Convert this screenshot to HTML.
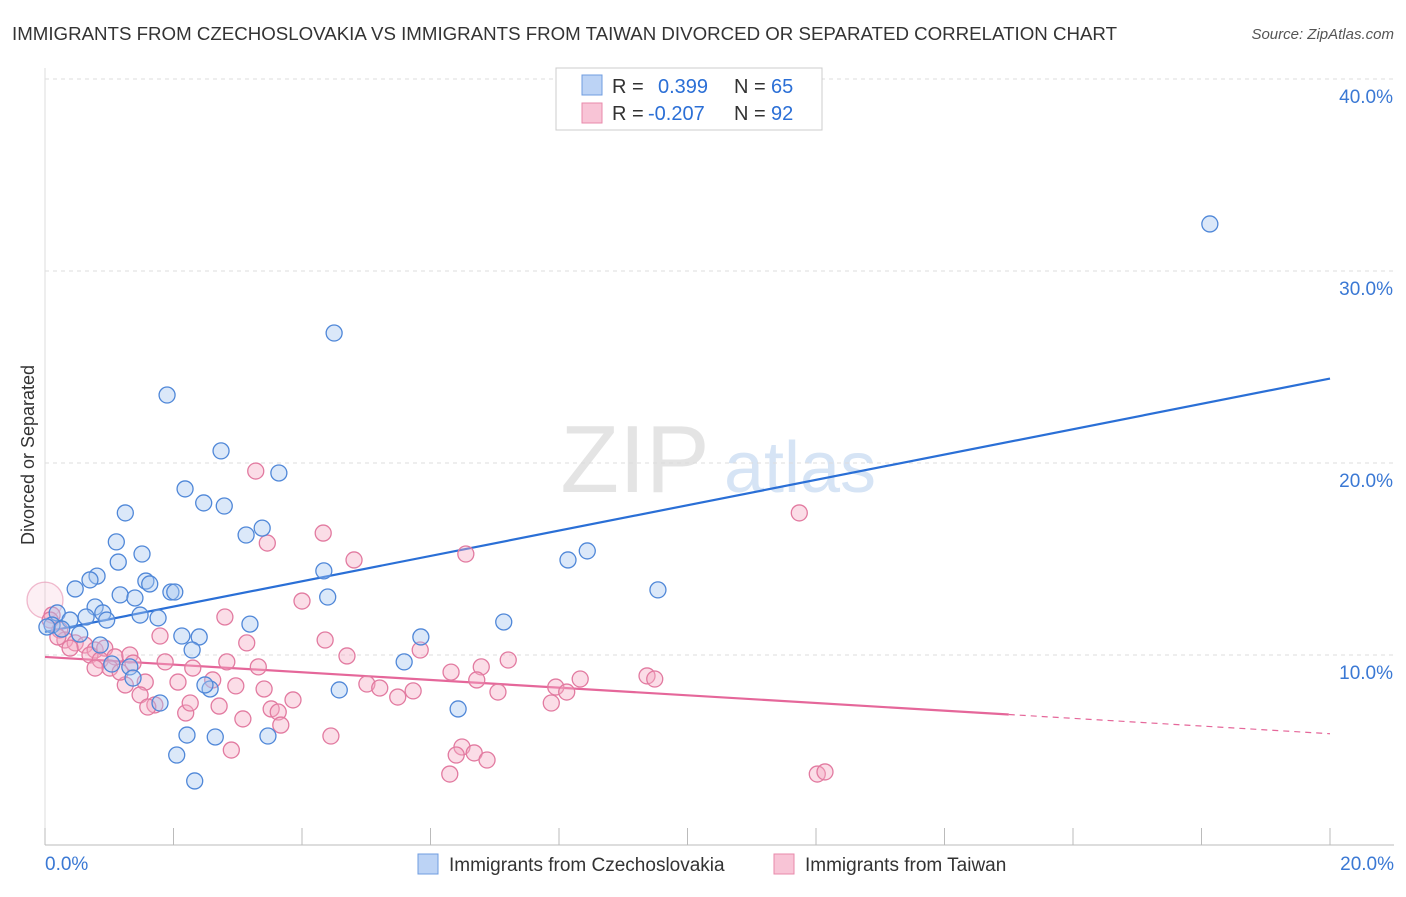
<!DOCTYPE html>
<html><head><meta charset="utf-8">
<style>
body{margin:0;background:#fff;font-family:"Liberation Sans",sans-serif;}
svg text{font-family:"Liberation Sans",sans-serif;}
</style></head>
<body>
<svg id="chart" width="1406" height="892" xmlns="http://www.w3.org/2000/svg">
<text x="12" y="40" font-size="18" fill="#333" textLength="1105" lengthAdjust="spacingAndGlyphs">IMMIGRANTS FROM CZECHOSLOVAKIA VS IMMIGRANTS FROM TAIWAN DIVORCED OR SEPARATED CORRELATION CHART</text>
<text x="1394" y="39" font-size="15" fill="#555" font-style="italic" text-anchor="end">Source: ZipAtlas.com</text>
<text x="0" y="0" font-size="18" fill="#333" transform="translate(34,455) rotate(-90)" text-anchor="middle">Divorced or Separated</text>
<g><text x="635" y="492" font-size="96" fill="#e4e4e4" font-family="Liberation Serif" text-anchor="middle">ZIP</text><text x="800" y="492" font-size="72" fill="#d6e4f5" text-anchor="middle">atlas</text></g>
<g id="grid"></g><g id="axes"></g><g id="lines"></g><g id="pts"></g>
<g>
<rect x="556" y="68" width="266" height="62" fill="#fff" stroke="#ccc"/>
<rect x="582" y="75" width="20" height="20" fill="#bcd3f5" stroke="#6f9de0"/>
<rect x="582" y="103" width="20" height="20" fill="#f8c4d6" stroke="#e88aab"/>
<text x="612" y="93" font-size="20" fill="#333">R = </text><text x="658" y="93" font-size="20" fill="#2b6fd6">0.399</text>
<text x="734" y="93" font-size="20" fill="#333">N = </text><text x="771" y="93" font-size="20" fill="#2b6fd6">65</text>
<text x="612" y="120" font-size="20" fill="#333">R = </text><text x="648" y="120" font-size="20" fill="#2b6fd6">-0.207</text>
<text x="734" y="120" font-size="20" fill="#333">N = </text><text x="771" y="120" font-size="20" fill="#2b6fd6">92</text>
</g>
<g>
<rect x="418" y="854" width="20" height="20" fill="#bcd3f5" stroke="#6f9de0"/>
<text x="449" y="871" font-size="19" fill="#333">Immigrants from Czechoslovakia</text>
<rect x="774" y="854" width="20" height="20" fill="#f8c4d6" stroke="#e88aab"/>
<text x="805" y="871" font-size="19" fill="#333">Immigrants from Taiwan</text>
</g>
</svg>
<script>
const blueX=[18.13,4.50,1.90,2.74,3.64,2.18,2.47,2.79,1.25,3.38,3.13,8.44,8.14,1.11,1.51,1.14,4.34,0.81,0.70,1.57,1.63,0.47,9.54,1.17,1.96,2.02,1.40,4.40,0.78,0.90,0.19,0.64,1.48,0.96,1.76,0.39,7.14,3.19,0.11,0.26,0.03,0.54,2.13,2.40,5.85,0.86,2.29,5.59,1.04,1.32,1.37,2.57,4.58,1.79,6.43,2.21,2.65,3.47,2.05,2.33,2.49];
const blueY=[32.45,26.77,23.54,20.63,19.48,18.65,17.92,17.76,17.40,16.61,16.25,15.42,14.95,15.89,15.26,14.84,14.38,14.11,13.91,13.85,13.70,13.44,13.39,13.13,13.28,13.28,12.97,13.02,12.50,12.19,12.19,11.98,12.08,11.82,11.93,11.82,11.72,11.61,11.56,11.35,11.46,11.09,10.99,10.94,10.94,10.52,10.26,9.64,9.53,9.38,8.80,8.23,8.18,7.50,7.19,5.83,5.73,5.78,4.79,3.44,8.44];
const pinkX=[3.28,11.74,4.33,3.46,6.55,4.81,4.00,2.80,4.36,1.79,3.14,5.84,4.70,7.21,6.79,6.32,2.83,3.32,1.87,2.30,9.37,9.49,8.33,6.72,7.95,8.12,5.01,5.21,5.73,7.05,5.49,7.88,3.86,3.41,2.97,2.61,2.07,1.56,1.25,1.48,1.71,1.60,2.19,2.26,2.71,3.08,3.52,3.63,3.67,4.45,2.90,6.49,6.40,6.68,6.88,6.30,12.02,12.14,0,0.11,0.23,0.31,0.47,0.62,0.78,0.93,0.70,0.86,1.09,1.32,1.01,0.78,1.17,1.37,0.39,0.20,0.08];
const pinkY=[19.58,17.40,16.35,15.83,15.26,14.95,12.81,11.98,10.78,10.99,10.63,10.26,9.95,9.74,9.38,9.11,9.64,9.38,9.64,9.32,8.91,8.75,8.75,8.70,8.33,8.07,8.49,8.28,8.13,8.07,7.81,7.50,7.66,8.23,8.39,8.70,8.59,8.59,8.44,7.92,7.40,7.29,6.98,7.50,7.34,6.67,7.19,7.03,6.35,5.78,5.05,5.21,4.79,4.90,4.53,3.80,3.80,3.91,12.86,12.08,11.30,10.78,10.63,10.52,10.26,10.36,10.00,9.74,9.90,10.00,9.32,9.32,9.11,9.58,10.36,10.94,11.82];
const blueTrend=[11.2,24.4];
const pinkTrend=[9.9,5.9];
const yTicks=[10,20,30,40];
const xTicks=[0,2,4,6,8,10,12,14,16,18,20];
const X=v=>45+v*64.25, Y=v=>847-v*19.2;
const NS="http://www.w3.org/2000/svg";
function mk(tag,attrs,parent){const e=document.createElementNS(NS,tag);for(const k in attrs)e.setAttribute(k,attrs[k]);document.getElementById(parent).appendChild(e);return e;}
yTicks.forEach(t=>{
 const l=mk('line',{x1:45,x2:1394,y1:Y(t),y2:Y(t),stroke:'#ddd','stroke-dasharray':'4,4'},'grid');
 
 
 const tx=mk('text',{x:1393,y:Y(t)+24,'font-size':19,fill:'#3a78d4','text-anchor':'end'},'axes');
 tx.textContent=t.toFixed(1)+'%';
 
 
});
const ax=mk('line',{x1:45,x2:1394,y1:845,y2:845,stroke:'#bbb'},'axes');


const ay=mk('line',{x1:45,x2:45,y1:68,y2:845,stroke:'#ddd'},'axes');


xTicks.forEach(t=>{
 const l=mk('line',{x1:X(t),x2:X(t),y1:828,y2:845,stroke:'#bbb'},'axes');
 
 
});
[[0,'start',45],[20,'end',1394]].forEach(([t,a,px])=>{
 const tx=mk('text',{x:px,y:870,'font-size':19,fill:'#3a78d4','text-anchor':a},'axes');
 tx.textContent=t.toFixed(1)+'%';
 
 
});
function dot(x,y,fill,stroke,r,op,name){
 const c=mk('circle',{cx:X(x),cy:Y(y),r:r,fill:fill,'fill-opacity':op,stroke:stroke,'stroke-opacity':op<0.3?0.5:1,'stroke-width':1.3},'pts');
 
 
}
pinkX.forEach((x,i)=>dot(x,pinkY[i],'#f4a9c3','#e27aa0',i==58?18:8,i==58?0.18:0.4,'taiwan-point'));
blueX.forEach((x,i)=>dot(x,blueY[i],'#a6c6f0','#4f87d8',8,0.4,'czechoslovakia-point'));
const bl=mk('line',{x1:X(0),y1:Y(blueTrend[0]),x2:X(20),y2:Y(blueTrend[1]),stroke:'#2a6fd6','stroke-width':2.2},'lines');


const f=15.0/20;
const pm=pinkTrend[0]+(pinkTrend[1]-pinkTrend[0])*f;
const pl=mk('line',{x1:X(0),y1:Y(pinkTrend[0]),x2:X(15),y2:Y(pm),stroke:'#e5679a','stroke-width':2.2},'lines');


const pd=mk('line',{x1:X(15),y1:Y(pm),x2:X(20),y2:Y(pinkTrend[1]),stroke:'#e5679a','stroke-width':1.2,'stroke-dasharray':'6,5'},'lines');


</script>
</body></html>
